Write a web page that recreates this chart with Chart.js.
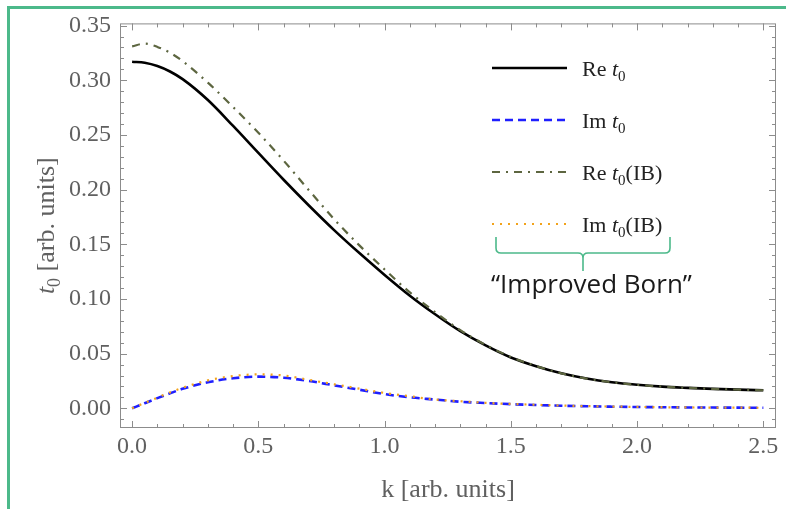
<!DOCTYPE html>
<html lang="en">
<head>
  <meta charset="UTF-8">
  <title>t0 vs k</title>
  <script src="https://cdn.jsdelivr.net/npm/chart.js"></script>
  <style>
    body { margin: 0; background: #fff; }
    #wrap { position: relative; width: 786px; height: 509px; }
    #edge {
      position: absolute; left: 7px; top: 6px; right: 0; bottom: 0;
      border-left: 3px solid #4cb98a; border-top: 3px solid #4cb98a;
      pointer-events: none;
    }
  </style>
</head>
<body>
  <div id="wrap">
    <canvas id="chart" width="786" height="509"></canvas>
    <div id="edge"></div>
  </div>

  <script>
    // k values (x) and the four curves
    const kValues = [0, 0.05, 0.1, 0.15, 0.2, 0.3, 0.4, 0.5, 0.6, 0.7, 0.8, 0.9, 1.0, 1.1, 1.2, 1.3,
                     1.4, 1.5, 1.6, 1.7, 1.8, 1.9, 2.0, 2.1, 2.2, 2.3, 2.4, 2.5];
    const reT0   = [0.317, 0.316, 0.313, 0.308, 0.301, 0.2819, 0.2582, 0.2335, 0.209, 0.1855, 0.163, 0.142, 0.122,
                    0.103, 0.086, 0.0705, 0.0575, 0.0465, 0.0385, 0.032, 0.0272, 0.0238, 0.0215, 0.0198, 0.0187,
                    0.0178, 0.0171, 0.0165];
    const imT0   = [0, 0.0047, 0.0093, 0.0137, 0.0178, 0.0238, 0.0275, 0.029, 0.028, 0.025, 0.021, 0.017, 0.013,
                    0.010, 0.008, 0.006, 0.0048, 0.0038, 0.003, 0.0024, 0.0019, 0.0015, 0.0012, 0.001, 0.0008,
                    0.0007, 0.0006, 0.0005];
    const reT0IB = [0.331, 0.3335, 0.3305, 0.3252, 0.3175, 0.2978, 0.2755, 0.252, 0.2265, 0.1995, 0.173, 0.149, 0.127,
                    0.106, 0.088, 0.0715, 0.058, 0.047, 0.0387, 0.032, 0.0272, 0.0238, 0.0215, 0.0198, 0.0187,
                    0.0178, 0.0171, 0.0165];
    const imT0IB = [0, 0.005, 0.0098, 0.0145, 0.0188, 0.0255, 0.0295, 0.031, 0.030, 0.026, 0.022, 0.018, 0.014,
                    0.011, 0.008, 0.0065, 0.005, 0.004, 0.0032, 0.0025, 0.002, 0.0016, 0.0013, 0.001, 0.0008,
                    0.0007, 0.0006, 0.0005];

    const xTicks = [0, 0.5, 1.0, 1.5, 2.0, 2.5];
    const yTicks = [0, 0.05, 0.10, 0.15, 0.20, 0.25, 0.30, 0.35];
    const xMinorStep = 0.1;
    const yMinorStep = 0.01;

    // legend entries: prefix, italic t with subscript 0, suffix
    const legendPre = ['Re', 'Im', 'Re', 'Im'];
    const legendPost = ['', '', '(IB)', '(IB)'];
    const noteText = '\u201CImproved Born\u201D';

    const serif = '"Liberation Serif", "Times New Roman", serif';
    const tickGrey = '#606060';
    const green = '#4cb98a';

    const pts = ys => kValues.map((k, i) => ({ x: k, y: ys[i] }));

    // draws the Mathematica-style frame with inward ticks on all four sides
    const frameTicks = {
      id: 'frameTicks',
      beforeDatasetsDraw(chart) {
        const { ctx, chartArea: a, scales: { x, y } } = chart;
        ctx.save();
        ctx.strokeStyle = '#8c8c8c';
        ctx.lineWidth = 1;
        ctx.strokeRect(a.left + 0.5, a.top + 0.5, a.right - a.left - 1, a.bottom - a.top - 1);
        ctx.beginPath();
        const xFirst = xTicks[0], xLast = xTicks[xTicks.length - 1];
        for (let i = 0; xFirst + i * xMinorStep <= xLast + 1e-9; i++) {
          const v = xFirst + i * xMinorStep;
          const major = xTicks.some(t => Math.abs(t - v) < 1e-6);
          const len = major ? 7 : 4;
          const px = Math.round(x.getPixelForValue(v)) + 0.5;
          ctx.moveTo(px, a.bottom); ctx.lineTo(px, a.bottom - len);
          ctx.moveTo(px, a.top); ctx.lineTo(px, a.top + len);
        }
        for (let i = -1; yTicks[0] + i * yMinorStep <= y.max; i++) {
          const v = yTicks[0] + i * yMinorStep;
          if (v < y.min) continue;
          const major = yTicks.some(t => Math.abs(t - v) < 1e-6);
          const len = major ? 7 : 4;
          const py = Math.round(y.getPixelForValue(v)) + 0.5;
          ctx.moveTo(a.left, py); ctx.lineTo(a.left + len, py);
          ctx.moveTo(a.right, py); ctx.lineTo(a.right - len, py);
        }
        ctx.stroke();
        ctx.restore();
      }
    };

    // writes "pre t0post" with italic t and subscript 0, returns end x
    function mathLabel(ctx, x, yBase, pre, post, size, color) {
      ctx.fillStyle = color;
      ctx.textBaseline = 'alphabetic';
      ctx.textAlign = 'left';
      ctx.font = size + 'px ' + serif;
      if (pre) { ctx.fillText(pre + ' ', x, yBase); x += ctx.measureText(pre + ' ').width; }
      ctx.font = 'italic ' + size + 'px ' + serif;
      ctx.fillText('t', x, yBase); x += ctx.measureText('t').width;
      const sub = Math.round(size * 0.7);
      ctx.font = sub + 'px ' + serif;
      ctx.fillText('0', x, yBase + size * 0.22); x += ctx.measureText('0').width;
      ctx.font = size + 'px ' + serif;
      if (post) { ctx.fillText(post, x, yBase); x += ctx.measureText(post).width; }
      return x;
    }

    const extras = {
      id: 'extras',
      afterDraw(chart) {
        const { ctx, chartArea: a } = chart;
        ctx.save();

        // legend
        const rowY = [68, 120, 172, 224];
        chart.data.datasets.forEach((ds, i) => {
          ctx.save();
          ctx.strokeStyle = ds.borderColor;
          ctx.lineWidth = ds.borderWidth;
          ctx.setLineDash(ds.borderDash || []);
          ctx.beginPath();
          ctx.moveTo(492, rowY[i]); ctx.lineTo(567, rowY[i]);
          ctx.stroke();
          ctx.restore();
          mathLabel(ctx, 582, rowY[i] + 8, legendPre[i], legendPost[i], 22, '#222');
        });

        // bracket for the IB entries
        ctx.strokeStyle = green;
        ctx.lineWidth = 1.6;
        ctx.beginPath();
        ctx.moveTo(496, 237); ctx.lineTo(496, 248);
        ctx.quadraticCurveTo(496, 253, 501, 253); ctx.lineTo(578, 253);
        ctx.quadraticCurveTo(583, 253, 583, 258); ctx.lineTo(583, 271);
        ctx.moveTo(583, 258);
        ctx.quadraticCurveTo(583, 253, 588, 253); ctx.lineTo(665, 253);
        ctx.quadraticCurveTo(670, 253, 670, 248); ctx.lineTo(670, 237);
        ctx.stroke();

        ctx.fillStyle = '#1a1a1a';
        ctx.font = '26px "Open Sans", Lato, sans-serif';
        ctx.textBaseline = 'alphabetic';
        ctx.fillText(noteText, 491, 293);

        // rotated y title
        ctx.translate(46, (a.top + a.bottom) / 2);
        ctx.rotate(-Math.PI / 2);
        const ts = 26;
        ctx.font = ts + 'px ' + serif;
        let w = ctx.measureText(' [arb. units]').width;
        ctx.font = 'italic ' + ts + 'px ' + serif;
        w += ctx.measureText('t').width;
        ctx.font = Math.round(ts * 0.7) + 'px ' + serif;
        w += ctx.measureText('0').width;
        mathLabel(ctx, -w / 2, 8, '', ' [arb. units]', ts, tickGrey);

        ctx.restore();
      }
    };

    new Chart(document.getElementById('chart'), {
      type: 'line',
      data: {
        datasets: [
          { label: 'Re t0', data: pts(reT0), borderColor: '#000000', borderWidth: 2.6, order: 4 },
          { label: 'Im t0', data: pts(imT0), borderColor: '#1f1fff', borderWidth: 2.6, borderDash: [8, 5], order: 3 },
          { label: 'Re t0(IB)', data: pts(reT0IB), borderColor: '#5d6640', borderWidth: 2.2, borderDash: [8, 6, 2, 6], order: 2 },
          { label: 'Im t0(IB)', data: pts(imT0IB), borderColor: '#f2a31b', borderWidth: 2.2, borderDash: [2, 6], order: 1 }
        ]
      },
      options: {
        responsive: false,
        animation: false,
        layout: { padding: { top: 23, right: 10, left: 0, bottom: 0 } },
        elements: {
          point: { radius: 0 },
          line: { cubicInterpolationMode: 'monotone', fill: false }
        },
        plugins: {
          legend: { display: false },
          tooltip: { enabled: false }
        },
        scales: {
          x: {
            type: 'linear',
            min: -0.048,
            max: 2.55,
            grid: { display: false, drawTicks: false },
            border: { display: false },
            afterBuildTicks: s => { s.ticks = xTicks.map(v => ({ value: v })); },
            afterFit: s => { s.height = 81; },
            ticks: {
              color: tickGrey,
              font: { family: serif, size: 24 },
              padding: 4,
              maxRotation: 0,
              callback: v => Number(v).toFixed(1)
            },
            title: {
              display: true,
              text: 'k [arb. units]',
              color: tickGrey,
              font: { family: serif, size: 26 },
              padding: { top: 0, bottom: 3 }
            }
          },
          y: {
            type: 'linear',
            min: -0.018,
            max: 0.352,
            grid: { display: false, drawTicks: false },
            border: { display: false },
            afterBuildTicks: s => { s.ticks = yTicks.map(v => ({ value: v })); },
            afterFit: s => { s.width = 120; },
            ticks: {
              color: tickGrey,
              font: { family: serif, size: 24 },
              padding: 9,
              callback: v => Number(v).toFixed(2)
            }
          }
        }
      },
      plugins: [frameTicks, extras]
    });
  </script>
</body>
</html>
